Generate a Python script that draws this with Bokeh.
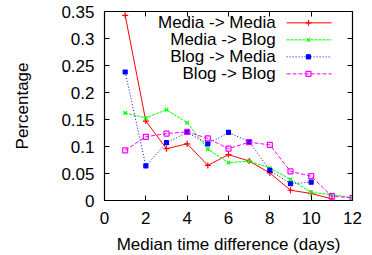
from bokeh.plotting import figure
from bokeh.models import LinearAxis, FixedTicker, Range1d
from bokeh.core.properties import value
from bokeh.embed import file_html
from bokeh.resources import INLINE

# ---- data ----
series_names = ["Media -> Media", "Media -> Blog", "Blog -> Media", "Blog -> Blog"]
days_mm = [1, 2, 3, 4, 5, 6, 7, 8, 9, 10, 11]
media_media = [0.343, 0.147, 0.096, 0.105, 0.065, 0.085, 0.073, 0.051, 0.019, 0.013, 0.003]
days_mb = [1, 2, 3, 4, 5, 6, 7, 8, 9, 10, 11, 12]
media_blog = [0.162, 0.153, 0.168, 0.144, 0.095, 0.070, 0.073, 0.060, 0.039, 0.015, 0.011, 0.005]
days_bm = [1, 2, 3, 4, 5, 6, 7, 8, 9, 10]
blog_media = [0.238, 0.064, 0.107, 0.126, 0.105, 0.126, 0.109, 0.056, 0.031, 0.034]
days_bb = [1, 2, 3, 4, 5, 6, 7, 8, 9, 10, 11, 12]
blog_blog = [0.093, 0.118, 0.124, 0.127, 0.115, 0.096, 0.108, 0.103, 0.054, 0.045, 0.008, 0.005]

xticks = [0, 2, 4, 6, 8, 10, 12]
yticks = [0, 0.05, 0.1, 0.15, 0.2, 0.25, 0.3, 0.35]
ytick_labels = ["0", "0.05", "0.1", "0.15", "0.2", "0.25", "0.3", "0.35"]

FONT = "Liberation Sans"
FS = "17px"

p = figure(frame_width=248, frame_height=189, output_backend="svg", toolbar_location=None,
           x_range=Range1d(0, 12), y_range=Range1d(0, 0.35),
           min_border_left=104, min_border_right=12, min_border_top=11, min_border_bottom=10,
           x_axis_label="Median time difference (days)", y_axis_label="Percentage")
p.grid.visible = False
p.outline_line_color = "black"
p.outline_line_width = 1.2
p.background_fill_color = "white"
p.border_fill_color = "white"

for ax in [p.xaxis[0], p.yaxis[0]]:
    ax.axis_line_color = None
    ax.major_tick_in = 5
    ax.major_tick_out = 0
    ax.minor_tick_line_color = None
    ax.major_label_text_font = FONT
    ax.major_label_text_font_size = FS
    ax.major_label_text_color = "black"
    ax.axis_label_text_font = FONT
    ax.axis_label_text_font_size = FS
    ax.axis_label_text_font_style = "normal"
    ax.axis_label_text_color = "black"
    ax.major_tick_line_color = "black"

p.xaxis[0].ticker = FixedTicker(ticks=xticks)
p.yaxis[0].ticker = FixedTicker(ticks=yticks)
p.yaxis[0].major_label_overrides = {v: l for v, l in zip(yticks, ytick_labels)}
p.xaxis[0].major_label_standoff = 11
p.xaxis[0].axis_label_standoff = 8
p.yaxis[0].major_label_standoff = 10
p.yaxis[0].axis_label_standoff = 26

for loc, ticks in [("above", xticks), ("right", yticks)]:
    ax = LinearAxis(ticker=FixedTicker(ticks=ticks))
    ax.axis_line_color = None
    ax.major_tick_in = 5
    ax.major_tick_out = 0
    ax.minor_tick_line_color = None
    ax.major_label_overrides = {t: "" for t in ticks}
    ax.major_label_text_font_size = "1px"
    ax.major_label_standoff = 0
    p.add_layout(ax, loc)

styles = [
    dict(x=days_mm, y=media_media, color="#ff0000", dash="solid", marker="cross", size=6, fill="#ff0000"),
    dict(x=days_mb, y=media_blog, color="#00ff00", dash="3 1", marker="x", size=5, fill="#00ff00"),
    dict(x=days_bm, y=blog_media, color="#0000ff", dash="1 2", marker="square", size=4, fill="#0000ff"),
    dict(x=days_bb, y=blog_blog, color="#ff00ff", dash="4 2", marker="square", size=5, fill=None),
]

for s in styles:
    p.line(s["x"], s["y"], line_color=s["color"], line_dash=s["dash"], line_width=1)
    p.scatter(s["x"], s["y"], marker=s["marker"], size=s["size"], line_color=s["color"],
              fill_color=s["fill"], line_width=1.2)

# ---- legend (layout in data units of the fixed ranges) ----
leg_text_x = 8.28
leg_x0, leg_x1, leg_xm = 8.81, 10.99, 9.87
leg_y0, leg_dy = 0.329, 0.0315
for i, (name, s) in enumerate(zip(series_names, styles)):
    yy = leg_y0 - i * leg_dy
    p.text(x=[leg_text_x], y=[yy], text=[name], text_align="right", text_baseline="middle",
           text_font=value(FONT), text_font_size=value(FS), text_color="black")
    p.line([leg_x0, leg_x1], [yy, yy], line_color=s["color"], line_dash=s["dash"], line_width=1)
    p.scatter([leg_xm], [yy], marker=s["marker"], size=s["size"], line_color=s["color"],
              fill_color=s["fill"], line_width=1.2)

open("out.html", "w").write(file_html(p, INLINE))
